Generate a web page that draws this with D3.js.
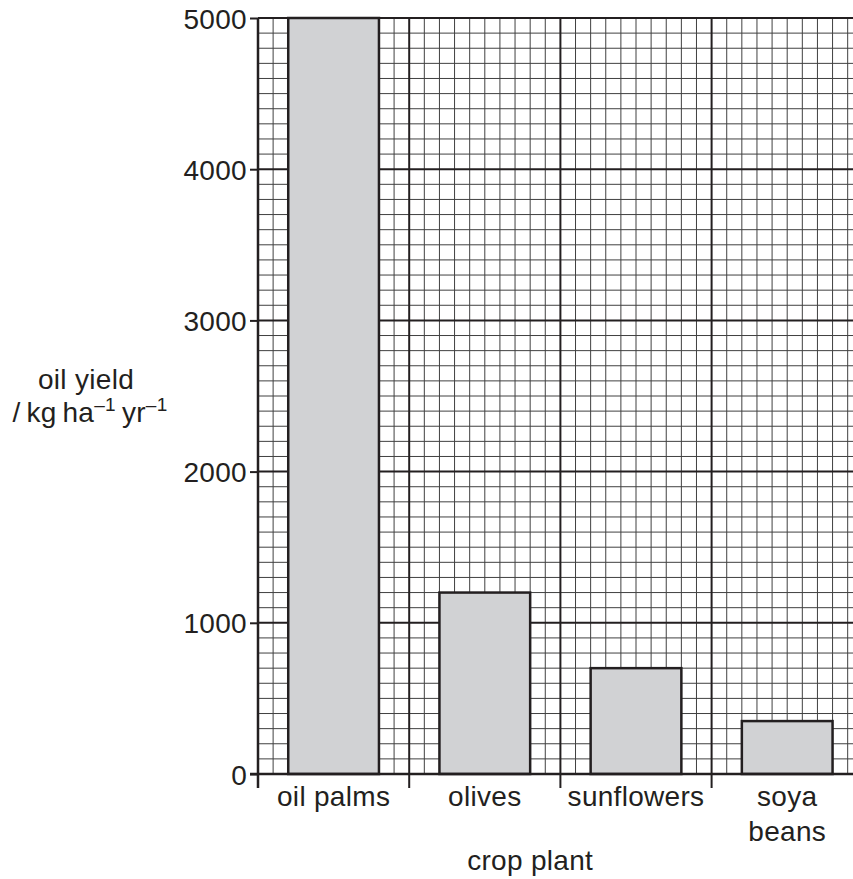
<!DOCTYPE html>
<html>
<head>
<meta charset="utf-8">
<script src="https://cdn.jsdelivr.net/npm/d3@7"></script>
<style>
html,body{margin:0;padding:0;background:#fff;}
svg{display:block;}
text{font-family:"Liberation Sans",Arial,sans-serif;fill:#231f20;letter-spacing:0.3px;}
</style>
</head>
<body>
<svg id="chart" width="853" height="879"></svg>
<script>
const categories = ["oil palms", "olives", "sunflowers", "soya beans"];
const categoryLabels = [["oil palms"], ["olives"], ["sunflowers"], ["soya", "beans"]];
const values = [5000, 1200, 700, 350];
const yTicks = [0, 1000, 2000, 3000, 4000, 5000];

(function () {
const svg = d3.select("#chart");
const W = 853, H = 879;
const FS = "28px";
const pTop = 18, pBottom = 774, pLeft = 258;
const yMax = 5000, minorStep = 100, majorStep = 1000;
const cell = (pBottom - pTop) / (yMax / minorStep);
const cellsPerCat = 10;
const pRight = pLeft + categories.length * cellsPerCat * cell;

const y = d3.scaleLinear().domain([0, yMax]).range([pBottom, pTop]);
const x = d3.scaleBand().domain(categories).range([pLeft, pRight]).paddingInner(0.4).paddingOuter(0.2);
const xCell = d3.scaleLinear().domain([0, categories.length * cellsPerCat]).range([pLeft, pRight]);

const grid = svg.append("g");
const nCells = categories.length * cellsPerCat;
const vMinor = d3.range(0, nCells + 1).filter(i => i % cellsPerCat !== 0);
const hMinor = d3.range(0, yMax + 1, minorStep).filter(v => v % majorStep !== 0);
grid.selectAll(".vminor").data(vMinor).join("line")
  .attr("x1", d => xCell(d)).attr("x2", d => xCell(d))
  .attr("y1", pTop).attr("y2", pBottom)
  .attr("stroke", "#404040").attr("stroke-width", 1);
grid.selectAll(".hminor").data(hMinor).join("line")
  .attr("x1", pLeft).attr("x2", pRight)
  .attr("y1", d => y(d)).attr("y2", d => y(d))
  .attr("stroke", "#404040").attr("stroke-width", 1);
const vMajor = d3.range(0, nCells + 1, cellsPerCat);
const hMajor = d3.range(majorStep, yMax + 1, majorStep);
grid.selectAll(".vmajor").data(vMajor).join("line")
  .attr("x1", d => xCell(d)).attr("x2", d => xCell(d))
  .attr("y1", pTop).attr("y2", pBottom)
  .attr("stroke", "#231f20").attr("stroke-width", 2);
grid.selectAll(".hmajor").data(hMajor).join("line")
  .attr("x1", pLeft).attr("x2", pRight)
  .attr("y1", d => y(d)).attr("y2", d => y(d))
  .attr("stroke", "#231f20").attr("stroke-width", 2);

// bars
svg.selectAll(".bar").data(values).join("rect")
  .attr("x", (d, i) => x(categories[i]))
  .attr("y", d => y(d))
  .attr("width", x.bandwidth())
  .attr("height", d => pBottom - y(d))
  .attr("fill", "#d1d2d4")
  .attr("stroke", "#231f20").attr("stroke-width", 2.5);

// y axis
const yAxis = d3.axisLeft(y).tickValues(yTicks).tickFormat(d3.format("d")).tickSize(8).tickPadding(3);
const gy = svg.append("g").attr("transform", `translate(${pLeft},0)`).call(yAxis);
gy.select(".domain").remove();
gy.selectAll(".tick line").attr("stroke", "#231f20").attr("stroke-width", 2);
gy.selectAll(".tick text").style("font-family", '"Liberation Sans",Arial,sans-serif')
  .style("font-size", FS).style("letter-spacing", "0.3px").attr("fill", "#231f20").attr("dy", "0.36em");

// axis lines
svg.append("line").attr("x1", pLeft).attr("x2", pLeft).attr("y1", pTop).attr("y2", pBottom + 14)
  .attr("stroke", "#231f20").attr("stroke-width", 2.5);
svg.append("line").attr("x1", pLeft - 8).attr("x2", W).attr("y1", pBottom).attr("y2", pBottom)
  .attr("stroke", "#231f20").attr("stroke-width", 2.5);

// category ticks
const catBounds = categories.slice(1).map(c => x(c) - x.step() * x.paddingInner() / 2);
svg.selectAll(".ctick").data(catBounds).join("line")
  .attr("x1", d => d).attr("x2", d => d).attr("y1", pBottom).attr("y2", pBottom + 14)
  .attr("stroke", "#231f20").attr("stroke-width", 2);

// category labels
const labs = svg.selectAll(".clab").data(categories).join("text")
  .attr("text-anchor", "middle")
  .attr("x", d => x(d) + x.bandwidth() / 2)
  .attr("y", 806)
  .style("font-size", FS);
labs.each(function(d, i) {
  const t = d3.select(this);
  categoryLabels[i].forEach((line, j) => {
    t.append("tspan").attr("x", x(d) + x.bandwidth() / 2).attr("dy", j === 0 ? 0 : 35).text(line);
  });
});

// x title
svg.append("text").attr("text-anchor", "middle").attr("y", 870).style("font-size", FS)
  .attr("x", xCell(18)).text("crop plant");

// y title
svg.append("text").attr("x", 86).attr("y", 389).attr("text-anchor", "middle")
  .style("font-size", FS).text("oil yield");
const yt = svg.append("text").attr("x", 90).attr("y", 422).attr("text-anchor", "middle")
  .style("font-size", FS);
yt.append("tspan").text("/\u2009kg\u2009ha");
yt.append("tspan").attr("dy", -11).style("font-size", "19px").text("–1");
yt.append("tspan").attr("dy", 11).text("\u2009yr");
yt.append("tspan").attr("dy", -11).style("font-size", "19px").text("–1");
})();
</script>
</body>
</html>
